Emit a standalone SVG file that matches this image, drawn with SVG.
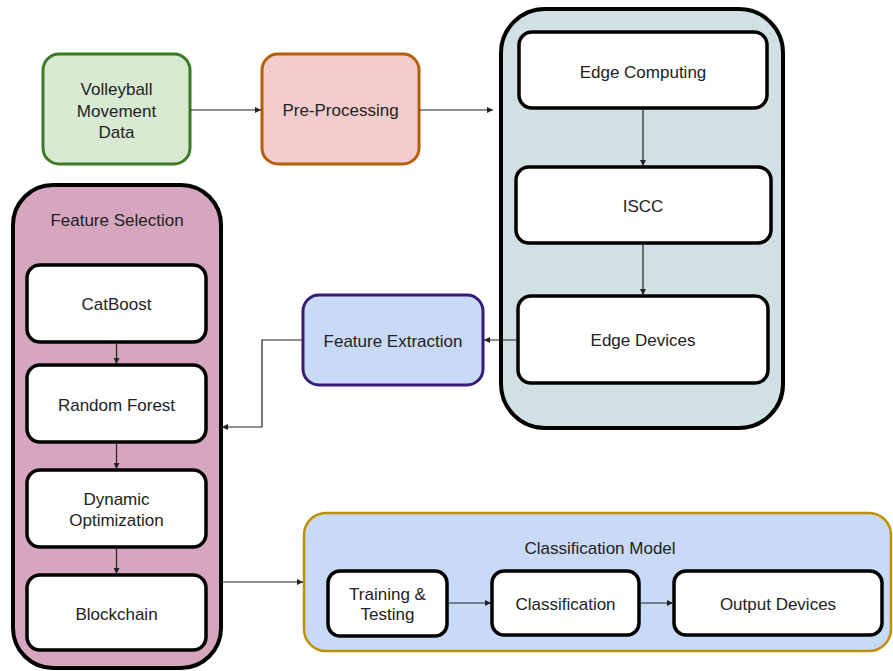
<svg xmlns="http://www.w3.org/2000/svg" width="893" height="671" viewBox="0 0 893 671">
<defs>
<marker id="ah" viewBox="0 0 10 10" refX="10" refY="5" markerWidth="6" markerHeight="6" markerUnits="userSpaceOnUse" orient="auto">
<path d="M0,0 L10,5 L0,10 z" fill="#222"/>
</marker>
<style>
text{font-family:"Liberation Sans",Arial,sans-serif;fill:#222;text-anchor:middle;font-size:17px}
.inner{fill:#fff;stroke:#000;stroke-width:3.5}
.big{stroke:#000;stroke-width:4}
.conn{fill:none;stroke:#222;stroke-width:1.2;marker-end:url(#ah)}
</style>
</defs>
<rect width="893" height="671" fill="#fff"/>

<g id="volleyball">
<rect x="43" y="54" width="147" height="110" rx="16" fill="#d9ead3" stroke="#3d7a25" stroke-width="3"/>
<text x="116.5" y="95" font-size="18">Volleyball</text>
<text x="116.5" y="117" font-size="18">Movement</text>
<text x="116.5" y="138" font-size="18">Data</text>
</g>

<g id="preprocessing">
<rect x="262" y="54" width="157" height="110" rx="16" fill="#f4cccc" stroke="#b45f06" stroke-width="3"/>
<text x="340.5" y="116" font-size="18">Pre-Processing</text>
</g>

<g id="edge-container">
<rect x="501" y="9" width="282" height="419" rx="44" fill="#d0e0e3" class="big"/>
</g>
<g id="edge-computing">
<rect x="519" y="32" width="248" height="76" rx="13" class="inner"/>
<text x="643" y="78">Edge Computing</text>
</g>
<g id="iscc">
<rect x="516" y="167" width="255" height="76" rx="13" class="inner"/>
<text x="643" y="212" font-size="18">ISCC</text>
</g>
<g id="edge-devices">
<rect x="518" y="296" width="250" height="87" rx="13" class="inner"/>
<text x="643" y="346" font-size="18">Edge Devices</text>
</g>

<g id="feature-extraction">
<rect x="303" y="295" width="180" height="90" rx="16" fill="#c9daf8" stroke="#351c75" stroke-width="3"/>
<text x="393" y="347">Feature Extraction</text>
</g>

<g id="feature-selection">
<rect x="13" y="185" width="208" height="483" rx="40" fill="#d5a6bd" class="big"/>
<text x="117" y="226" font-size="16">Feature Selection</text>
</g>
<g id="catboost">
<rect x="27" y="265" width="179" height="77" rx="13" class="inner"/>
<text x="116.5" y="310" font-size="18">CatBoost</text>
</g>
<g id="random-forest">
<rect x="27" y="365" width="179" height="77" rx="13" class="inner"/>
<text x="116.5" y="411" font-size="18">Random Forest</text>
</g>
<g id="dynamic-optimization">
<rect x="27" y="470" width="179" height="77" rx="13" class="inner"/>
<text x="116.5" y="505" font-size="18">Dynamic</text>
<text x="116.5" y="526" font-size="18">Optimization</text>
</g>
<g id="blockchain">
<rect x="27" y="575" width="179" height="75" rx="13" class="inner"/>
<text x="116.5" y="620" font-size="18">Blockchain</text>
</g>

<g id="classification-model">
<rect x="304" y="513" width="587" height="138" rx="22" fill="#c9daf8" stroke="#bf9000" stroke-width="2.5"/>
<text x="600" y="554">Classification Model</text>
</g>
<g id="training-testing">
<rect x="328" y="571" width="119" height="65" rx="12" class="inner"/>
<text x="387.5" y="600">Training &amp;</text>
<text x="387.5" y="620">Testing</text>
</g>
<g id="classification">
<rect x="492" y="571" width="147" height="64" rx="12" class="inner"/>
<text x="565.5" y="610">Classification</text>
</g>
<g id="output-devices">
<rect x="674" y="571" width="208" height="64" rx="12" class="inner"/>
<text x="778" y="610">Output Devices</text>
</g>

<g id="connectors">
<path class="conn" d="M190,110 H261"/>
<path class="conn" d="M419,110 H493"/>
<path class="conn" d="M643,108 V166"/>
<path class="conn" d="M643,243 V295"/>
<path class="conn" d="M518,340 H484"/>
<path class="conn" d="M303,340 H262 V427 H222"/>
<path class="conn" d="M116.5,342 V364"/>
<path class="conn" d="M116.5,442 V469"/>
<path class="conn" d="M116.5,547 V574"/>
<path class="conn" d="M221,582 H303"/>
<path class="conn" d="M447,603 H491"/>
<path class="conn" d="M639,603 H673"/>
</g>
</svg>
